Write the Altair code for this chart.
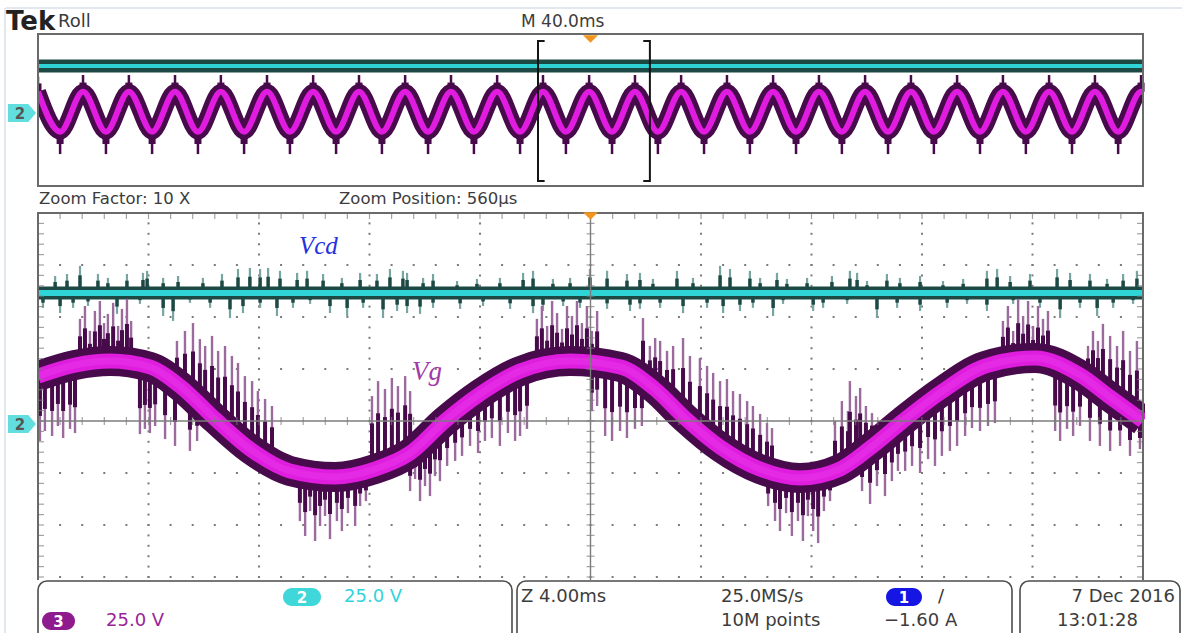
import altair as alt
import pandas as pd

# ---------------- values ----------------
# Zoomed (lower) window: time in ms (Z 4.00 ms/div), level in V (25.0 V/div)
vg_t = [0.0, 1.34, 2.61, 4.05, 5.14, 6.41, 7.68, 9.12, 10.75, 12.20, 13.47, 14.73, 16.00, 17.45, 19.26,
        21.07, 22.33, 23.42, 24.69, 26.13, 27.58, 29.03, 30.12, 31.31, 32.65, 34.28, 36.09, 37.72, 38.81, 40.0]
vg_v = [21.6, 26.9, 28.8, 26.0, 16.8, 1.0, -13.5, -24.0, -26.9, -23.1, -15.4, 0.0, 13.0, 24.0, 28.8,
        26.0, 15.4, 1.4, -12.5, -23.1, -27.4, -23.1, -13.0, 0.0, 13.5, 26.4, 30.3, 22.1, 11.5, 0.0]

vcd_t = [0.0, 40.0]
vcd_v = [61.5, 61.5]

# Vcd noise spikes (time, tip level)
vcd_spike_t = [0.62, 1.05, 1.52, 2.17, 2.53, 3.22, 3.80, 3.95, 4.53, 5.07, 5.97, 6.66, 7.24, 7.67, 8.04,
               8.33, 8.76, 9.38, 9.74, 10.32, 11.00, 11.66, 12.27, 12.74, 13.21, 13.36, 13.94, 14.30, 15.17,
               15.89, 16.72, 17.56, 17.92, 18.64, 19.26, 19.98, 20.60, 21.32, 21.79, 22.26, 23.13, 23.71,
               24.69, 25.05, 25.77, 26.14, 26.75, 27.11, 27.84, 28.74, 29.39, 29.65, 30.01, 30.73, 31.20,
               31.93, 32.76, 33.49, 34.35, 34.72, 35.19, 35.91, 36.89, 37.36, 38.08, 38.70, 39.28, 39.78,
               0.18, 0.80, 1.27, 1.81, 2.86, 3.69, 4.53, 4.89, 5.50, 6.23, 6.95, 7.42, 8.04, 8.65, 9.23,
               9.85, 10.57, 11.19, 11.77, 12.49, 13.00, 13.36, 13.83, 14.30, 15.28, 16.11, 17.09, 17.92,
               18.28, 19.01, 19.62, 20.60, 21.43, 21.79, 22.52, 23.35, 24.22, 24.80, 25.41, 25.88, 26.61,
               26.97, 28.06, 28.42, 29.29, 30.37, 31.10, 31.93, 32.91, 33.63, 34.35, 35.30, 36.27, 37.00,
               37.72, 38.34, 38.92, 39.64]
vcd_spike_v = [69.7, 70.7, 74.6, 70.7, 68.8, 70.7, 71.2, 72.2, 68.8, 69.7, 68.8, 70.7, 73.1, 73.6, 73.1,
               73.6, 72.2, 71.2, 72.2, 70.7, 68.8, 71.2, 70.7, 73.1, 72.2, 71.2, 68.8, 70.7, 67.3,
               68.3, 68.8, 71.2, 72.2, 68.3, 68.8, 73.1, 72.2, 70.7, 71.2, 68.3, 72.2, 68.8,
               74.6, 73.1, 72.2, 68.8, 71.2, 68.3, 68.8, 69.7, 72.2, 71.2, 67.3, 70.7, 68.8,
               69.7, 67.3, 68.3, 72.2, 73.1, 69.7, 70.7, 73.1, 71.2, 70.7, 68.3, 70.7, 72.2,
               54.4, 51.9, 54.4, 55.3, 51.5, 56.3, 50.5, 48.1, 56.8, 54.4, 49.5, 51.9, 54.4, 50.5, 54.4,
               56.3, 51.9, 50.5, 54.4, 49.5, 52.9, 51.9, 51.5, 54.4, 53.9, 55.3, 53.9, 51.9,
               52.9, 55.3, 54.4, 53.9, 52.9, 53.9, 54.4, 51.9, 54.4, 51.9, 52.9, 54.4, 50.5,
               56.3, 52.9, 54.4, 56.3, 49.5, 54.4, 52.9, 54.4, 56.3, 52.9, 56.3, 54.4, 49.5,
               54.4, 50.5, 54.4, 56.3]

# Vg switching-noise spikes (time, tip level, level of the trace where it starts)
vg_spike_t = [
    1.52, 1.70, 1.88, 2.06, 2.24, 2.39, 2.53, 2.72, 2.90, 3.04, 3.22, 3.37,
    5.03, 5.32, 5.61, 5.86, 6.05, 6.30, 6.52, 6.77, 7.02, 7.24, 7.49, 7.75, 7.96, 8.22, 8.47,
    0.07, 0.25, 0.51, 0.72, 0.91, 1.16, 1.34,
    3.69, 3.87, 4.05, 4.24, 4.60, 4.96, 5.50, 5.76,
    9.48, 9.67, 9.85, 10.03, 10.21, 10.39, 10.57, 10.82, 11.00, 11.22, 11.48, 11.66, 11.87,
    12.09, 12.31, 12.56, 12.81, 13.03, 13.29, 13.47,
    13.29, 13.47, 13.65, 13.83, 14.01, 14.19, 14.37, 14.55, 14.81, 15.10, 15.35, 15.64, 15.93, 16.18,
    16.43, 16.72, 17.01, 17.27, 17.45, 17.70,
    18.06, 18.24, 18.43, 18.61, 18.79, 18.97, 19.15, 19.33, 19.51, 19.69, 19.87, 20.05, 20.24,
    20.05, 20.24, 20.53, 20.78, 21.07, 21.32, 21.61, 21.86,
    21.90, 22.15, 22.34, 22.52, 22.77, 22.99, 23.35, 23.60, 23.96, 24.22, 24.44, 24.69, 24.94, 25.16,
    25.41, 25.67, 25.88, 26.14, 26.39, 26.57,
    26.43, 26.68, 26.86, 27.08, 27.29, 27.51, 27.69, 27.87, 28.06, 28.24, 28.45, 28.67,
    28.85, 29.10, 29.32, 29.39, 29.61, 29.76, 29.97, 30.19, 30.41,
    29.83, 30.12, 30.37, 30.66, 30.91, 31.13, 31.39, 31.64, 31.93, 32.22, 32.47, 32.72, 33.01, 33.27,
    33.56, 33.81, 34.10, 34.39, 34.64,
    34.93, 35.11, 35.30, 35.48, 35.66, 35.84, 36.02, 36.20, 36.38, 36.56,
    36.82, 37.00, 37.25, 37.47, 37.72,
    38.01, 38.19, 38.37, 38.55, 38.81, 39.06, 39.28, 39.53, 39.78,
    38.08, 38.44, 38.81, 39.17, 39.53, 39.89]
vg_spike_tip = [
    49.1, 55.3, 43.3, 52.9, 57.7, 47.1, 51.5, 56.8, 45.7, 53.9, 58.7, 48.1,
    38.5, 43.3, 47.1, 39.4, 36.1, 40.9, 33.7, 36.1, 31.3, 27.9, 21.6, 19.2, 14.4, 10.6, 7.2,
    -9.6, -4.8, -7.2, -2.4, -8.2, -3.8, -5.8,
    -6.3, -3.8, -5.8, -2.4, -8.7, -12.0, -14.4, -9.6,
    -48.1, -55.3, -43.3, -57.7, -50.5, -45.7, -56.8, -48.1, -52.9, -44.3, -50.5, -40.9, -38.5,
    12.0, 19.2, 15.4, 20.7, 16.8, 21.6, 14.4,
    -24.0, -33.7, -27.9, -38.5, -31.3, -36.1, -26.5, -28.9, -21.6, -19.2, -16.8, -12.0, -15.4, -9.6,
    -8.2, -12.0, -5.8, -9.6, -7.2, -3.8,
    49.1, 55.3, 45.7, 57.7, 51.9, 44.3, 55.3, 50.5, 57.7, 47.1, 55.3, 43.3, 52.9,
    4.8, 7.2, -7.2, -9.6, -4.8, -8.2, -3.8, -2.4,
    49.5, 36.1, 39.9, 38.5, 33.7, 36.1, 39.9, 31.3, 30.3, 26.5, 23.1, 19.2, 20.2, 14.4,
    13.0, 9.6, 7.2, 3.4, -1.0, -3.4,
    -40.9, -48.1, -52.9, -44.3, -55.3, -48.1, -57.7, -45.7, -52.9, -58.7, -43.3, -38.5,
    0.0, 9.6, 4.8, 19.2, 12.0, 15.9, 7.2, 3.8, 0.0,
    -33.7, -39.9, -31.3, -36.1, -28.9, -24.0, -24.0, -21.6, -25.0, -18.3, -21.6, -16.8, -14.4, -12.0,
    -7.2, -3.4, -4.8, -2.4, -1.0,
    48.1, 55.3, 43.3, 58.7, 50.5, 57.7, 45.7, 55.3, 49.1, 52.9,
    -4.8, -9.6, -3.8, -7.2, -2.4,
    36.1, 43.3, 38.5, 46.7, 40.9, 36.1, 43.3, 33.7, 38.5,
    -9.6, -12.0, -14.4, -12.0, -16.8, -13.5]
vg_spike_base = [
    27.0, 27.0, 27.0, 27.0, 27.0, 27.0, 27.0, 27.0, 27.0, 27.0, 27.0, 27.0,
    17.3, 14.4, 11.1, 8.7, 5.8, 2.9, 0.0, -2.9, -5.8, -8.2, -11.1, -13.9, -15.9, -17.8, -19.7,
    22.1, 23.1, 24.5, 25.5, 26.0, 26.9, 26.9,
    26.5, 26.5, 26.0, 25.0, 21.6, 18.3, 12.5, 9.6,
    -25.0, -25.0, -25.0, -25.0, -25.0, -25.0, -25.0, -25.0, -25.0, -25.0, -25.0, -25.0, -25.0,
    -22.6, -21.6, -20.2, -18.3, -16.8, -15.4, -14.4,
    -15.4, -14.4, -13.0, -11.5, -9.6, -7.7, -5.3, -2.4, 1.0, 3.8, 6.7, 9.6, 12.5, 14.9,
    16.8, 19.2, 21.2, 23.1, 24.0, 25.5,
    27.0, 27.0, 27.0, 27.0, 27.0, 27.0, 27.0, 27.0, 27.0, 27.0, 27.0, 27.0, 27.0,
    28.0, 28.0, 27.9, 26.9, 26.0, 24.5, 22.6, 20.2,
    20.7, 17.8, 15.4, 13.0, 9.6, 6.7, 1.9, -1.4, -5.3, -8.2, -10.6, -12.5, -14.9, -16.4,
    -18.3, -19.7, -21.2, -23.1, -24.5, -25.5,
    -25.0, -25.0, -25.0, -25.0, -25.0, -25.0, -25.0, -25.0, -25.0, -25.0, -25.0, -25.0,
    -25.0, -22.6, -20.7, -19.7, -17.8, -16.4, -13.9, -12.0, -10.1,
    -15.9, -13.0, -11.1, -8.2, -5.3, -2.4, 0.5, 3.4, 6.7, 9.6, 12.0, 14.4, 17.3, 19.2,
    21.6, 23.1, 24.5, 25.5, 26.5,
    28.0, 28.0, 28.0, 28.0, 28.0, 28.0, 28.0, 28.0, 28.0, 28.0,
    27.4, 26.5, 25.0, 23.6, 22.1,
    20.2, 18.8, 16.8, 14.9, 11.5, 8.7, 6.3, 3.4, 1.0,
    19.7, 16.1, 11.5, 7.7, 3.4, 0.5]

# Full record (upper) window: time in ms (M 40.0 ms/div), level in V
top_t = [0.0, 8.0, 16.3, 24.6, 32.9, 41.3, 49.6, 57.9, 66.2, 74.6, 82.9, 91.2, 99.6, 107.9, 116.2,
         124.5, 132.9, 141.2, 149.5, 157.8, 166.2, 174.5, 182.8, 191.1, 199.5, 207.8, 216.1, 224.4,
         232.8, 241.1, 249.4, 257.7, 266.1, 274.4, 282.7, 291.0, 299.4, 307.7, 316.0, 324.3, 332.7,
         341.0, 349.3, 357.6, 366.0, 374.3, 382.6, 391.0, 399.3, 400.0]
top_vg_v = [24.0, -28.5, 24.0, -28.5, 24.0, -28.5, 24.0, -28.5, 24.0, -28.5,
            24.0, -28.5, 24.0, -28.5, 24.0, -28.5, 24.0, -28.5, 24.0, -28.5,
            24.0, -28.5, 24.0, -28.5, 24.0, -28.5, 24.0, -28.5, 24.0, -28.5,
            24.0, -28.5, 24.0, -28.5, 24.0, -28.5, 24.0, -28.5, 24.0, -28.5,
            24.0, -28.5, 24.0, -28.5, 24.0, -28.5, 24.0, -28.5, 24.0, 24.0]
top_vg_tip = [44.0, -58.0, 46.0, -58.0, 46.0, -58.0, 46.0, -58.0, 46.0, -58.0,
              46.0, -58.0, 46.0, -58.0, 46.0, -58.0, 46.0, -58.0, 46.0, -58.0,
              46.0, -58.0, 46.0, -58.0, 46.0, -58.0, 46.0, -58.0, 46.0, -58.0,
              46.0, -58.0, 46.0, -58.0, 46.0, -58.0, 46.0, -58.0, 46.0, -58.0,
              46.0, -58.0, 46.0, -58.0, 46.0, -58.0, 46.0, -58.0, 46.0, 24.0]
top_vcd_t = [0.0, 400.0]
top_vcd_v = [58.0, 58.0]

zoom_window = [181.0, 221.5]   # bracket in the record window, ms

# ---------------- scales ----------------
XL = alt.Scale(domain=[0, 40], range=[38, 1143], nice=False, zero=False)
YL = alt.Scale(domain=[-100, 100], range=[629, 213], nice=False, zero=False)
XT = alt.Scale(domain=[0, 400], range=[38, 1143], nice=False, zero=False)
YT = alt.Scale(domain=[-100, 100], range=[186, 34], nice=False, zero=False)


def X(f, s):
    return alt.X(f, type="quantitative", scale=s, axis=None)


def Y(f, s):
    return alt.Y(f, type="quantitative", scale=s, axis=None)


FONT = "DejaVu Sans"
DARK_PURPLE = "#470a4a"
DARK_TEAL = "#1d4944"
one = pd.DataFrame({"a": [0]})
layers = []

# ---------------- lower graticule ----------------
dot_rows = []
for k in [4, 8, 12, 16, 24, 28, 32, 36]:
    for j in range(-19, 20):
        dot_rows.append({"t": k, "v": j * 5})
for lv in [-75, -50, -25, 25, 50, 75]:
    for j in range(1, 50):
        dot_rows.append({"t": j * 0.8, "v": lv})
layers.append(alt.Chart(pd.DataFrame(dot_rows)).mark_square(size=4, color="#7a7a7a", opacity=1).encode(
    x=X("t", XL), y=Y("v", YL)))

# ---------------- Vcd (lower) ----------------
df_vcd = pd.DataFrame({"t": vcd_t, "v": vcd_v})
df_vcd_spk = pd.DataFrame({"t": vcd_spike_t, "tip": vcd_spike_v, "base": [vcd_v[0]] * len(vcd_spike_t)})
layers.append(alt.Chart(df_vcd_spk).mark_rule(color="#78a5a2", strokeWidth=2.2).encode(
    x=X("t", XL), y=Y("tip", YL), y2=alt.Y2("base")))
layers.append(alt.Chart(df_vcd_spk).transform_calculate(
    mid="datum.base + 0.65*(datum.tip - datum.base)").mark_rule(color=DARK_TEAL, strokeWidth=3.5).encode(
    x=X("t", XL), y=Y("mid", YL), y2=alt.Y2("base")))
layers.append(alt.Chart(df_vcd).mark_line(color=DARK_TEAL, strokeWidth=13).encode(
    x=X("t", XL), y=Y("v", YL)))

# ---------------- Vg (lower) ----------------
df_vg = pd.DataFrame({"t": vg_t, "v": vg_v})
df_vg_spk = pd.DataFrame({"t": vg_spike_t, "tip": vg_spike_tip, "base": vg_spike_base})
layers.append(alt.Chart(df_vg_spk).mark_rule(color="#9c6b9e", strokeWidth=2.4).encode(
    x=X("t", XL), y=Y("tip", YL), y2=alt.Y2("base")))
layers.append(alt.Chart(df_vg_spk).transform_calculate(
    mid="datum.base + 0.62*(datum.tip - datum.base)").mark_rule(color=DARK_PURPLE, strokeWidth=4).encode(
    x=X("t", XL), y=Y("mid", YL), y2=alt.Y2("base")))
layers.append(alt.Chart(df_vg).mark_line(color=DARK_PURPLE, strokeWidth=30, interpolate="monotone").encode(
    x=X("t", XL), y=Y("v", YL)))
layers.append(alt.Chart(df_vg).mark_line(color="#de1dde", strokeWidth=15, interpolate="monotone").encode(
    x=X("t", XL), y=Y("v", YL)))
layers.append(alt.Chart(df_vg).mark_line(color="#e42ae4", strokeWidth=7, interpolate="monotone").encode(
    x=X("t", XL), y=Y("v", YL)))

# cyan Vcd on top
layers.append(alt.Chart(df_vcd).mark_line(color="#2ed4d6", strokeWidth=6).encode(
    x=X("t", XL), y=Y("v", YL)))

# ---------------- upper (record) window traces ----------------
df_tvcd = pd.DataFrame({"t": top_vcd_t, "v": top_vcd_v})
df_tvg = pd.DataFrame({"t": top_t, "v": top_vg_v, "tip": top_vg_tip})
layers.append(alt.Chart(df_tvcd).mark_line(color=DARK_TEAL, strokeWidth=13).encode(
    x=X("t", XT), y=Y("v", YT)))
layers.append(alt.Chart(df_tvg).mark_rule(color=DARK_PURPLE, strokeWidth=2.5).encode(
    x=X("t", XT), y=Y("tip", YT), y2=alt.Y2("v")))
layers.append(alt.Chart(df_tvg).transform_calculate(
    mid="datum.v + 0.55*(datum.tip - datum.v)").mark_rule(color=DARK_PURPLE, strokeWidth=7).encode(
    x=X("t", XT), y=Y("mid", YT), y2=alt.Y2("v")))
layers.append(alt.Chart(df_tvg).mark_line(color=DARK_PURPLE, strokeWidth=16, interpolate="monotone").encode(
    x=X("t", XT), y=Y("v", YT)))
layers.append(alt.Chart(df_tvg).mark_line(color="#e01ce0", strokeWidth=6, interpolate="monotone").encode(
    x=X("t", XT), y=Y("v", YT)))
layers.append(alt.Chart(df_tvcd).mark_line(color="#2ed4d6", strokeWidth=4).encode(
    x=X("t", XT), y=Y("v", YT)))

# white masks so thick strokes do not run past the window edges
layers.append(alt.Chart(one).mark_rect(color="white").encode(
    x=alt.value(7), x2=alt.value(37), y=alt.value(30), y2=alt.value(580)))
layers.append(alt.Chart(one).mark_rect(color="white").encode(
    x=alt.value(1145), x2=alt.value(1182), y=alt.value(30), y2=alt.value(580)))

# faint page frame
layers.append(alt.Chart(one).mark_rule(color="#e3e8ee", strokeWidth=2).encode(
    x=alt.value(6), x2=alt.value(1182), y=alt.value(8)))
layers.append(alt.Chart(one).mark_rule(color="#e3e8ee", strokeWidth=2).encode(
    x=alt.value(5), y=alt.value(8), y2=alt.value(633)))

# center lines and ticks (drawn over the traces)
layers.append(alt.Chart(pd.DataFrame({"t": [20], "v1": [-100], "v2": [100]})).mark_rule(
    color="#7c7c7c", strokeWidth=1.4).encode(x=X("t", XL), y=Y("v1", YL), y2=alt.Y2("v2")))
layers.append(alt.Chart(pd.DataFrame({"t1": [0], "t2": [40], "v": [0]})).mark_rule(
    color="#7c7c7c", strokeWidth=1.4).encode(x=X("t1", XL), x2=alt.X2("t2"), y=Y("v", YL)))
ct_h = pd.DataFrame({"t": [j * 0.8 for j in range(1, 50)], "v": [0] * 49})
layers.append(alt.Chart(ct_h).mark_tick(orient="vertical", size=8, thickness=1.2, color="#7c7c7c").encode(
    x=X("t", XL), y=Y("v", YL)))
ct_v = pd.DataFrame({"t": [20] * 39, "v": [j * 5 for j in range(-19, 20)]})
layers.append(alt.Chart(ct_v).mark_tick(orient="horizontal", size=8, thickness=1.2, color="#7c7c7c").encode(
    x=X("t", XL), y=Y("v", YL)))
for tt, off in [(0, 3), (40, -3)]:
    df_e = pd.DataFrame({"t": [tt] * 39, "v": [j * 5 for j in range(-19, 20)]})
    layers.append(alt.Chart(df_e).mark_tick(orient="horizontal", size=6, thickness=1.2, color="#7c7c7c",
                                            xOffset=off).encode(x=X("t", XL), y=Y("v", YL)))
df_top_e = pd.DataFrame({"t": [j * 0.8 for j in range(1, 50)], "v": [100] * 49})
layers.append(alt.Chart(df_top_e).mark_tick(orient="vertical", size=6, thickness=1.2, color="#7c7c7c",
                                            yOffset=3).encode(x=X("t", XL), y=Y("v", YL)))

# window borders
layers.append(alt.Chart(pd.DataFrame({"t1": [0], "t2": [40], "v1": [-100], "v2": [100]})).mark_rect(
    fillOpacity=0, stroke="#6a6a6a", strokeWidth=2).encode(
    x=X("t1", XL), x2=alt.X2("t2"), y=Y("v1", YL), y2=alt.Y2("v2")))
layers.append(alt.Chart(pd.DataFrame({"t1": [0], "t2": [400], "v1": [-100], "v2": [100]})).mark_rect(
    fillOpacity=0, stroke="#6a6a6a", strokeWidth=2).encode(
    x=X("t1", XT), x2=alt.X2("t2"), y=Y("v1", YT), y2=alt.Y2("v2")))

# zoom bracket [ ]
zl, zr = zoom_window
br_v = pd.DataFrame({"t": [zl, zr]})
layers.append(alt.Chart(br_v).mark_rule(color="#151515", strokeWidth=2).encode(
    x=X("t", XT), y=alt.value(40), y2=alt.value(182)))
br_top = pd.DataFrame({"t1": [zl, zr], "t2": [zl + 2.4, zr - 2.4]})
layers.append(alt.Chart(br_top).mark_rule(color="#151515", strokeWidth=2).encode(
    x=X("t1", XT), x2=alt.X2("t2"), y=alt.value(41)))
layers.append(alt.Chart(br_top).mark_rule(color="#151515", strokeWidth=2).encode(
    x=X("t1", XT), x2=alt.X2("t2"), y=alt.value(181)))

# trigger markers (orange)
TRI = "M-1,-0.5L1,-0.5L0,0.5Z"
layers.append(alt.Chart(pd.DataFrame({"t": [200.0]})).mark_point(
    shape=TRI, size=225, filled=True, color="#f2951f", opacity=1).encode(x=X("t", XT), y=alt.value(39)))
layers.append(alt.Chart(pd.DataFrame({"t": [20.0]})).mark_point(
    shape=TRI, size=225, filled=True, color="#f2951f", opacity=1).encode(x=X("t", XL), y=alt.value(216)))

# channel-2 ground tags
TAG = "M-1,-0.65L0.45,-0.65L1,0L0.45,0.65L-1,0.65Z"
for yy in [113, 424]:
    layers.append(alt.Chart(one).mark_point(shape=TAG, size=784, filled=True, color="#62dede",
                                            opacity=1).encode(x=alt.value(22), y=alt.value(yy)))
    layers.append(alt.Chart(one).mark_text(text="2", font=FONT, fontSize=15, fontWeight="bold",
                                           color="#555555").encode(x=alt.value(20), y=alt.value(yy + 1)))


def txt(s, x, y, size=16, color="#3c3c3c", weight="normal", style="normal", font=FONT, align="left"):
    return alt.Chart(one).mark_text(text=s, font=font, fontSize=size, fontWeight=weight, fontStyle=style,
                                    color=color, align=align, baseline="middle").encode(
        x=alt.value(x), y=alt.value(y))


layers.append(txt("Tek", 6, 22, size=26, color="#222222", weight="bold"))
layers.append(txt("Roll", 58, 22, size=18, color="#3a3a3a"))
layers.append(txt("M 40.0ms", 521, 22, size=17))
layers.append(txt("Zoom Factor: 10 X", 39, 199, size=16.5))
layers.append(txt("Zoom Position: 560μs", 339, 199, size=16.5))
layers.append(txt("Vcd", 299, 246, size=25, color="#2431e0", style="italic", font="Liberation Serif"))
layers.append(txt("Vg", 412, 372, size=27, color="#a23aa9", style="italic", font="Liberation Serif"))

# ---------------- readout panel ----------------
layers.append(alt.Chart(one).mark_rect(color="white").encode(
    x=alt.value(7), x2=alt.value(1182), y=alt.value(580), y2=alt.value(633)))
for x1, x2 in [(38, 512), (517, 1012), (1020, 1180)]:
    layers.append(alt.Chart(one).mark_rect(fillOpacity=0, stroke="#4c4c4c", strokeWidth=1.6,
                                           cornerRadius=9).encode(
        x=alt.value(x1), x2=alt.value(x2), y=alt.value(581), y2=alt.value(650)))

for (x1, x2, yc, col, lab) in [(283, 321, 597, "#3fd7d9", "2"), (42, 75, 621, "#8e1a8e", "3"),
                               (886, 922, 597, "#1616e4", "1")]:
    layers.append(alt.Chart(one).mark_rect(color=col, cornerRadius=9).encode(
        x=alt.value(x1), x2=alt.value(x2), y=alt.value(yc - 9), y2=alt.value(yc + 9)))
    layers.append(txt(lab, (x1 + x2) / 2, yc + 1, size=15, color="white", weight="bold", align="center"))

layers.append(txt("25.0 V", 344, 597, size=18, color="#33d3dd"))
layers.append(txt("25.0 V", 106, 621, size=18, color="#9a239a"))
layers.append(txt("Z 4.00ms", 521, 597, size=18))
layers.append(txt("25.0MS/s", 721, 597, size=18))
layers.append(txt("10M points", 721, 621, size=18))
layers.append(txt("/", 938, 597, size=18, color="#333333"))
layers.append(txt("\u22121.60 A", 884, 621, size=18))
layers.append(txt("7 Dec  2016", 1175, 597, size=18, align="right"))
layers.append(txt("13:01:28", 1057, 621, size=18))

chart = alt.layer(*layers).resolve_scale(x="independent", y="independent").properties(
    width=1182, height=633, padding=0, background="white",
    autosize=alt.AutoSizeParams(type="none")).configure_view(strokeWidth=0)

chart.save("out.html", embed_options={"renderer": "svg", "actions": False})
